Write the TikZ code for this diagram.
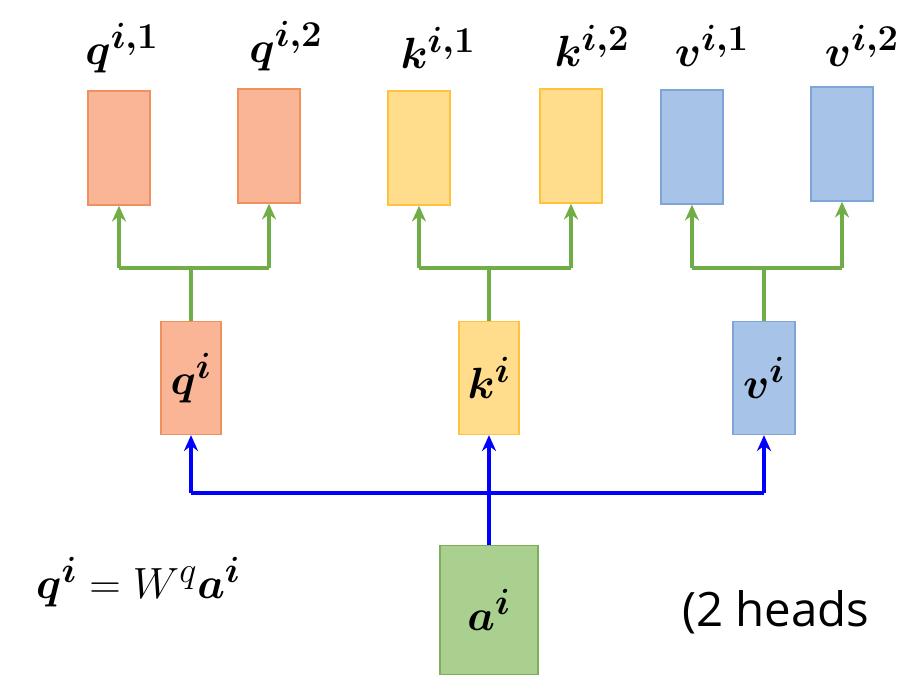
\documentclass[tikz,border=0pt]{standalone}
\usepackage{amsmath,bm}
\usepackage{fontspec}
\newfontfamily\sansf{Open Sans}
\usetikzlibrary{arrows.meta}
\definecolor{ofill}{HTML}{F9B596}\definecolor{oline}{HTML}{F0905E}
\definecolor{yfill}{HTML}{FFDD8C}\definecolor{yline}{HTML}{FFC23C}
\definecolor{bfill}{HTML}{A7C4E8}\definecolor{bline}{HTML}{7FA5D6}
\definecolor{gfill}{HTML}{A9D08E}\definecolor{gline}{HTML}{7DAE5C}
\definecolor{garr}{HTML}{70AD47}
\begin{document}
\begin{tikzpicture}[x=0.02cm,y=-0.02cm,
  box/.style={draw=#1line,fill=#1fill,line width=0.8pt,inner sep=0pt},
  tb/.style={box=#1,minimum width=1.24cm,minimum height=2.28cm},
  gar/.style={draw=garr,line width=2pt,-{Stealth[length=9pt,width=8pt]}},
  gl/.style={draw=garr,line width=2pt},
  bar/.style={draw=blue,line width=2pt,-{Stealth[length=9pt,width=8pt]}},
  bl/.style={draw=blue,line width=2pt},
  lab/.style={font=\fontsize{31}{36}\selectfont}]
\useasboundingbox (0,0) rectangle (916,690);
% top boxes
\node[tb=o] (q1) at (119,148) {};
\node[tb=o] (q2) at (269,146) {};
\node[tb=y] (k1) at (419,148) {};
\node[tb=y] (k2) at (571,146) {};
\node[tb=b] (v1) at (692,147) {};
\node[tb=b] (v2) at (842,144) {};
\node[lab] (lq1) at (122,48) {$\bm{q^{i,1}}$};
\node[lab] (lq2) at (286,46) {$\bm{q^{i,2}}$};
\node[lab] (lk1) at (438,48) {$\bm{k^{i,1}}$};
\node[lab] (lk2) at (592,46) {$\bm{k^{i,2}}$};
\node[lab] (lv1) at (712,46) {$\bm{v^{i,1}}$};
\node[lab] (lv2) at (862,46) {$\bm{v^{i,2}}$};
% middle boxes
\node[box=o,minimum width=1.2cm,minimum height=2.26cm,lab] (qi) at (191,378) {$\bm{q^i}$};
\node[box=y,minimum width=1.2cm,minimum height=2.26cm,lab] (ki) at (489,378) {$\bm{k^i}$};
\node[box=b,minimum width=1.24cm,minimum height=2.26cm,lab] (vi) at (764,378) {$\bm{v^i}$};
\node[box=g,minimum width=1.96cm,minimum height=2.58cm,lab] (ai) at (489,610) {$\bm{a^i}$};
% green splits
\foreach \m/\l/\r in {qi/q1/q2, ki/k1/k2, vi/v1/v2}{
  \draw[gl] (\m.north) -- ++(0,-54);
  \draw[gl] (\l.south |- 0,268) -- (\r.south |- 0,268);
  \draw[gar] (\l.south |- 0,268) -- (\l.south);
  \draw[gar] (\r.south |- 0,268) -- (\r.south);
}
% blue
\draw[bl] (ai.north) -- (489,493);
\draw[bl] (191,493) -- (764,493);
\draw[bar] (191,493) -- (qi.south);
\draw[bar] (489,493) -- (ki.south);
\draw[bar] (764,493) -- (vi.south);
\node[lab,anchor=west] (eq) at (30,582) {$\bm{q^i} = W^q\bm{a^i}$};
\node[anchor=west,font=\sansf\fontsize{27}{30}\selectfont] (h) at (676,612) {(2 heads};
\end{tikzpicture}
\end{document}
